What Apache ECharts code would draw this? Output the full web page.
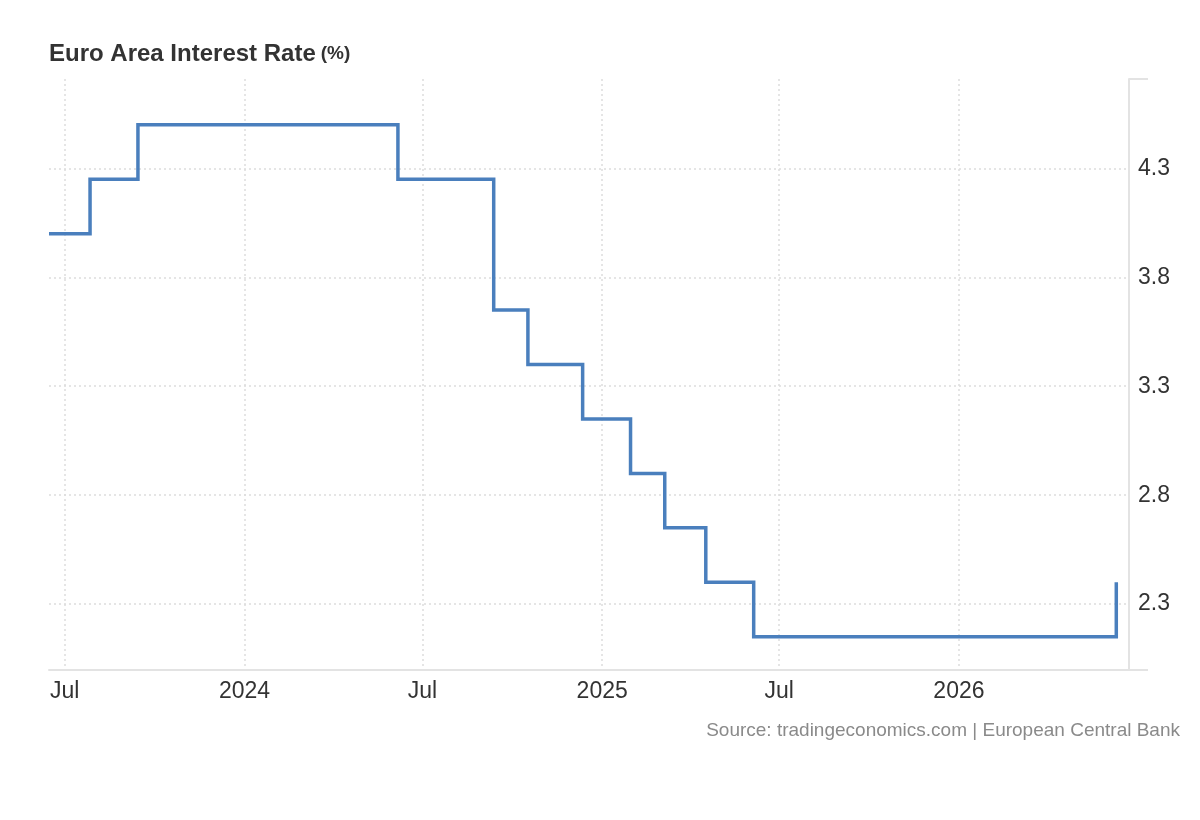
<!DOCTYPE html>
<html>
<head>
<meta charset="utf-8">
<script src="https://cdn.jsdelivr.net/npm/echarts@6/dist/echarts.min.js"></script>
<style>
html,body{margin:0;padding:0;background:#fff;}
#chart{width:1200px;height:820px;}
</style>
</head>
<body>
<div id="chart"></div>
<script>
// Rate change dates (value applies from this date until the next one)
const dates = ['2023-06-15','2023-07-27','2023-09-14','2024-06-06','2024-09-12','2024-10-17',
               '2024-12-12','2025-01-30','2025-03-06','2025-04-17','2025-06-05','2026-06-11'];
const rates = [4.00, 4.25, 4.50, 4.25, 3.65, 3.40, 3.15, 2.90, 2.65, 2.40, 2.15, 2.40];

const yTicks = [2.3, 2.8, 3.3, 3.8, 4.3];
const xTickDates = ['2023-07-01','2024-01-01','2024-07-01','2025-01-01','2025-07-01','2026-01-01'];
const xMinDate = '2023-06-15';
const xMaxDate = '2026-06-24';
const yMin = 2.0, yMax = 4.71;

const titleText = 'Euro Area Interest Rate';
const titleUnit = '(%)';
const sourceText = 'Source: tradingeconomics.com | European Central Bank';

const ts = d => new Date(d + 'T00:00:00Z').getTime();
const seriesData = dates.map((d, i) => [ts(d), rates[i]]);
const xTicks = xTickDates.map(ts);

const chart = echarts.init(document.getElementById('chart'), null, {renderer: 'canvas'});
const FONT = '"Liberation Sans", Arial, sans-serif';

chart.setOption({
  animation: false,
  backgroundColor: '#ffffff',
  title: {
    text: '{a|' + titleText + '} {b|' + titleUnit + '}',
    left: 44, top: 37,
    textStyle: {
      rich: {
        a: {fontFamily: FONT, fontWeight: 'bold', fontSize: 24, color: '#333333'},
        b: {fontFamily: FONT, fontWeight: 'bold', fontSize: 19, color: '#333333'}
      }
    }
  },
  graphic: [{
    type: 'text', right: 20, top: 721,
    style: {text: sourceText, fontFamily: FONT, fontSize: 19, fill: '#8a8a8a'}
  }],
  grid: {left: 49, right: 71, top: 79, bottom: 150.5, containLabel: false},
  xAxis: {
    type: 'value',
    min: ts(xMinDate), max: ts(xMaxDate),
    axisLine: {show: true, lineStyle: {color: '#e3e3e3', width: 2}},
    axisTick: {show: false, customValues: xTicks},
    axisLabel: {
      customValues: xTicks,
      fontFamily: FONT, fontSize: 23, color: '#333333', margin: 11,
      formatter: function (v) {
        const d = new Date(v);
        return d.getUTCMonth() === 0 ? String(d.getUTCFullYear()) : 'Jul';
      }
    },
    splitLine: {show: true, lineStyle: {color: '#dddddd', type: [2, 3], width: 1.5}}
  },
  yAxis: [{
    type: 'value', position: 'right',
    min: yMin, max: yMax,
    axisLine: {show: true, lineStyle: {color: '#e3e3e3', width: 2}},
    axisTick: {show: false, customValues: yTicks},
    axisLabel: {
      customValues: yTicks,
      fontFamily: FONT, fontSize: 23, color: '#333333', margin: 9,
      formatter: v => v.toFixed(1)
    },
    splitLine: {show: true, lineStyle: {color: '#dddddd', type: [2, 3], width: 1.5}}
  }, {
    type: 'value', position: 'right',
    min: yMin, max: yMax,
    axisLine: {show: false},
    axisTick: {show: true, inside: false, length: 19, customValues: [yMin, yMax],
               lineStyle: {color: '#e3e3e3', width: 2}},
    axisLabel: {show: false, customValues: [yMin, yMax]},
    splitLine: {show: false}
  }],
  series: [{
    type: 'line',
    step: 'end',
    data: seriesData,
    showSymbol: false,
    lineStyle: {color: '#4a7fbd', width: 3.5, join: 'miter'},
    itemStyle: {color: '#4a7fbd'},
    silent: true
  }]
});
</script>
</body>
</html>
